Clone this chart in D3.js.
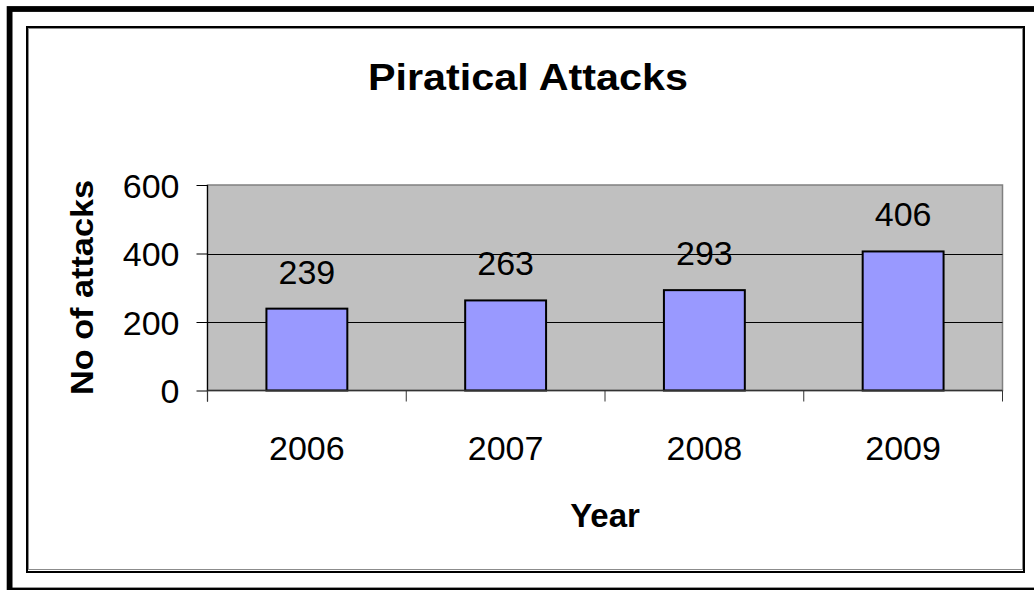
<!DOCTYPE html>
<html>
<head>
<meta charset="utf-8">
<script src="https://cdn.jsdelivr.net/npm/d3@7"></script>
<style>
  html, body { margin: 0; padding: 0; background: #ffffff; }
  svg { display: block; }
  text { font-family: "Liberation Sans", Arial, sans-serif; fill: #000; }
</style>
</head>
<body>
<svg id="chart" width="1034" height="590"></svg>
<script>
// Piratical attacks per year
const years = ["2006", "2007", "2008", "2009"];
const attacks = [239, 263, 293, 406];
const yTicks = [0, 200, 400, 600];

const svg = d3.select("#chart");
const W = 1034, H = 590;

// Frame: heavy outer border and the chart-area box with its inner grey edge
svg.append("rect")
  .attr("x", 9.6).attr("y", 9).attr("width", 1040).attr("height", 581.5)
  .attr("fill", "none").attr("stroke", "#000").attr("stroke-width", 5.8);
svg.append("rect")
  .attr("x", 27).attr("y", 27).attr("width", 997).attr("height", 545)
  .attr("fill", "#fff").attr("stroke", "#000").attr("stroke-width", 2);
svg.append("rect")
  .attr("x", 28.5).attr("y", 28.5).attr("width", 994).attr("height", 541)
  .attr("fill", "none").attr("stroke", "#8c8c8c").attr("stroke-width", 1);

// Plot area
const plot = { left: 207.5, right: 1002.5, top: 185, bottom: 390.5 };

const x = d3.scaleBand()
  .domain(years)
  .range([plot.left, plot.right])
  .paddingInner(0.593)
  .paddingOuter(0.593 / 2);

const y = d3.scaleLinear()
  .domain([0, 600])
  .range([plot.bottom, plot.top]);

svg.append("rect")
  .attr("x", plot.left).attr("y", plot.top)
  .attr("width", plot.right - plot.left).attr("height", plot.bottom - plot.top)
  .attr("fill", "#c0c0c0").attr("stroke", "#808080").attr("stroke-width", 1.5);

// Gridlines
svg.append("g")
  .selectAll("line")
  .data(yTicks.filter(t => t > 0 && t < 600))
  .join("line")
  .attr("x1", plot.left).attr("x2", plot.right)
  .attr("y1", d => Math.round(y(d)) + 0.5).attr("y2", d => Math.round(y(d)) + 0.5)
  .attr("stroke", "#000").attr("stroke-width", 1);

// Bars
svg.append("g")
  .selectAll("rect")
  .data(attacks)
  .join("rect")
  .attr("x", (d, i) => x(years[i]))
  .attr("y", d => y(d))
  .attr("width", x.bandwidth())
  .attr("height", d => y(0) - y(d))
  .attr("fill", "#9999ff")
  .attr("stroke", "#000")
  .attr("stroke-width", 2);

// Value labels
svg.append("g")
  .selectAll("text")
  .data(attacks)
  .join("text")
  .attr("x", (d, i) => x(years[i]) + x.bandwidth() / 2)
  .attr("y", d => y(d) - 25)
  .attr("text-anchor", "middle")
  .attr("font-size", 34)
  .text(d => d);

// Y axis
const yAxis = d3.axisLeft(y)
  .tickValues(yTicks)
  .tickSize(11)
  .tickPadding(17)
  .tickFormat(d3.format("d"));
const gy = svg.append("g")
  .attr("transform", `translate(${plot.left},0)`)
  .call(yAxis);
gy.select(".domain").attr("stroke", "#000").attr("stroke-width", 1.2)
  .attr("d", `M0,${plot.top}V${plot.bottom + 11}`);
gy.selectAll(".tick line").attr("stroke", "#000").attr("stroke-width", 1);
gy.selectAll(".tick text")
  .attr("font-size", 34)
  .attr("font-family", "'Liberation Sans', Arial, sans-serif")
  .attr("fill", "#000")
  .attr("dy", "0.36em");

// X axis: category boundary ticks below the baseline
const boundaries = d3.range(years.length + 1).map(i => plot.left + i * x.step());
svg.append("line")
  .attr("x1", plot.left).attr("x2", plot.right)
  .attr("y1", plot.bottom).attr("y2", plot.bottom)
  .attr("stroke", "#333").attr("stroke-width", 1.5);
svg.append("g")
  .selectAll("line")
  .data(boundaries)
  .join("line")
  .attr("x1", d => d).attr("x2", d => d)
  .attr("y1", plot.bottom).attr("y2", plot.bottom + 11)
  .attr("stroke", "#333").attr("stroke-width", 1);

svg.append("g")
  .selectAll("text")
  .data(years)
  .join("text")
  .attr("x", d => x(d) + x.bandwidth() / 2)
  .attr("y", 460)
  .attr("text-anchor", "middle")
  .attr("font-size", 34)
  .text(d => d);

// Titles
svg.append("text")
  .attr("x", 528).attr("y", 90)
  .attr("text-anchor", "middle")
  .attr("font-size", 37).attr("font-weight", "bold")
  .attr("textLength", 320).attr("lengthAdjust", "spacingAndGlyphs")
  .text("Piratical Attacks");

svg.append("text")
  .attr("x", (plot.left + plot.right) / 2).attr("y", 527)
  .attr("text-anchor", "middle")
  .attr("font-size", 33).attr("font-weight", "bold")
  .text("Year");

svg.append("text")
  .attr("transform", "translate(93,287.5) rotate(-90)")
  .attr("text-anchor", "middle")
  .attr("font-size", 31).attr("font-weight", "bold")
  .attr("textLength", 215).attr("lengthAdjust", "spacingAndGlyphs")
  .text("No of attacks");
</script>
</body>
</html>
